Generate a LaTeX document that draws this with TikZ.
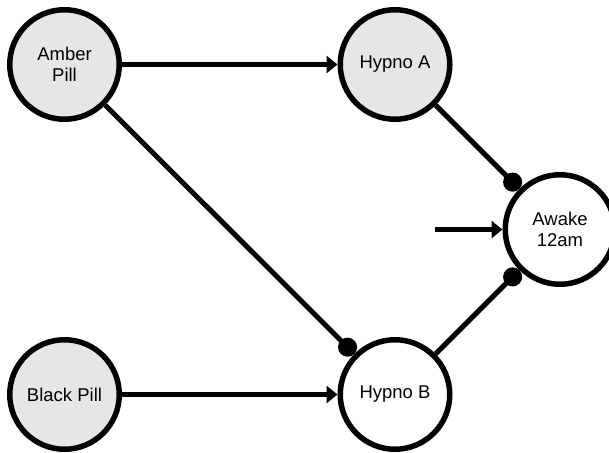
\documentclass[tikz,border=0pt]{standalone}
\usepackage{fontspec}
\setmainfont{Liberation Sans}
\usetikzlibrary{arrows.meta}
\definecolor{pillgrey}{HTML}{E6E6E6}
\begin{document}
\begin{tikzpicture}[x=1pt,y=-1pt,
  state/.style={circle, draw=black, line width=5.5pt, minimum size=109.5pt, inner sep=0pt,
    align=center, font=\fontsize{18.5}{21}\selectfont},
  drug/.style={state, fill=pillgrey},
  plain/.style={state, fill=white},
  excite/.style={line width=5pt, -{Triangle[length=11pt,width=17pt]}},
  inhibit/.style={line width=5pt, -{Circle[length=19pt]}}]
\useasboundingbox (0,0) rectangle (609,452);
\node[drug] (amber) at (64.5,64.5) {Amber\\Pill};
\node[drug] (hypA) at (395,64.5) {Hypno A};
\node[plain] (awake) at (560,229.5) {Awake\\12am};
\node[plain] (hypB) at (395,394.5) {Hypno B};
\node[drug] (black) at (64.5,394.5) {Black Pill};
\coordinate (ext) at (435,229.5);
\draw[excite] (amber) -- (hypA);
\draw[excite] (black) -- (hypB);
\draw[inhibit] (amber) -- (hypB);
\draw[inhibit] (hypA) -- (awake);
\draw[inhibit] (hypB) -- (awake);
\draw[excite] (ext) -- (awake);
\end{tikzpicture}
\end{document}
